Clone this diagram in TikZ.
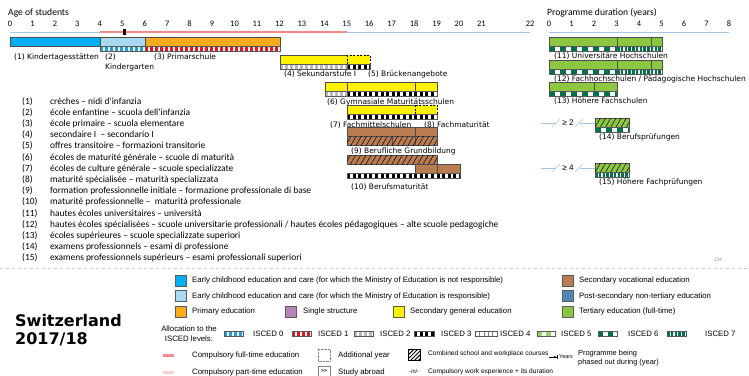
\documentclass[tikz,border=0pt]{standalone}
\usepackage{fontspec}
\setmainfont{Carlito}
\newfontfamily\verdanafont{DejaVu Sans}
\newfontfamily\arialfont{Liberation Sans}
\usetikzlibrary{patterns.meta,arrows.meta}

\definecolor{kitaBlue}{HTML}{00B0F0}
\definecolor{kigaBlue}{HTML}{A9D8F2}
\definecolor{primOrange}{HTML}{F7AC1E}
\definecolor{secYellow}{HTML}{FFF200}
\definecolor{vocBrown}{HTML}{B97C50}
\definecolor{terGreen}{HTML}{8DC63F}
\definecolor{darkGreen}{HTML}{00704A}
\definecolor{lightGreen}{HTML}{9ACD6A}
\definecolor{postBlue}{HTML}{4F86B8}
\definecolor{singlePurple}{HTML}{B784BE}
\definecolor{axisBlue}{HTML}{A4C6E6}
\definecolor{compRed}{HTML}{F08C8C}
\definecolor{compPink}{HTML}{F9CFCF}
\definecolor{iscedZero}{HTML}{1E9FDB}
\definecolor{iscedOne}{HTML}{E3151E}

\tikzset{
	box/.style={draw=gray!60!black,line width=0.4pt},
	addyear/.style={draw=black,line width=0.5pt,dash pattern=on 2pt off 1.5pt},
	dual/.style={postaction={pattern={Lines[angle=60,distance=4.5pt,line width=0.5pt]},pattern color=black}},
	axisline/.style={axisBlue,line width=1pt},
	title/.style={font=\fontsize{9.6}{10}\selectfont,anchor=west,inner sep=0pt},
	tick/.style={font=\fontsize{8.4}{9}\selectfont,inner sep=0pt},
	lbl/.style={font=\verdanafont\fontsize{7.5}{8}\selectfont,anchor=base west,inner sep=0pt},
	lst/.style={font=\fontsize{9.4}{10}\selectfont,anchor=base west,inner sep=0pt},
	leg/.style={font=\arialfont\fontsize{7.8}{9}\selectfont,anchor=west,inner sep=0pt},
	legsmall/.style={leg,font=\arialfont\fontsize{6.6}{8}\selectfont},
	legbox/.style={draw=gray!70!black,line width=0.4pt},
	ge/.style={font=\arialfont\fontsize{8.2}{9}\selectfont,inner sep=0pt},
	country/.style={font=\verdanafont\bfseries\fontsize{16}{17}\selectfont,anchor=west,inner sep=0pt}
}

% strip of ISCED blocks: x1, x2, top, block style, block width, period
\newcommand{\iscedbar}[6]{%
	\begin{scope}
		\clip (#1,#3) rectangle (#2,#3+5);
		\fill[white] (#1,#3) rectangle (#2,#3+5);
		\foreach \k in {0,...,40}
			\fill[#4] ({#1+\k*#6},#3) rectangle ++(#5,5);
	\end{scope}
	\draw[gray!70!black,line width=0.3pt] (#1,#3) rectangle (#2,#3+5);
}

\begin{document}
\begin{tikzpicture}[x=1pt,y=-1pt]
	\useasboundingbox (0,0) rectangle (749,375);

	% age axis
	\node[title] (agetitle) at (8,13) {Age of students};
	\draw[axisline] (10,32) -- (530,32);
	\foreach \a in {0,...,21}
		\node[tick] (age\a) at ({10+22.45*\a},24) {\a};
	\node[tick] (age22) at (530,24) {22};
	\draw[compRed,line width=2.2pt] (100,32) -- (347,32);
	\fill (123,29) rectangle (125.5,35);

	% early childhood, primary
	\draw[box,fill=kitaBlue] (10,37) rectangle (100,46);
	\draw[box,fill=kigaBlue] (100,37) rectangle (145,46);
	\draw[box,fill=primOrange] (145,37) rectangle (280,46);
	\iscedbar{100}{145}{46}{iscedZero}{2.5}{5}
	\iscedbar{145}{280}{46}{iscedOne}{2.5}{5}
	\node[lbl] (kita) at (14,59) {(1) Kindertagesstätten};
	\node[lbl] (kiganum) at (105,59) {(2)};
	\node[lbl] (kiga) at (105,69) {Kindergarten};
	\node[lbl] (prim) at (154,59) {(3) Primarschule};

	% secondary
	\draw[box,fill=secYellow] (280,55) rectangle (347,64);
	\draw[addyear,fill=secYellow] (347,55) rectangle (370,64);
	\iscedbar{280}{347}{64}{gray!55}{2.5}{5}
	\iscedbar{347}{370}{64}{black}{3}{5.6}
	\node[lbl] (sek) at (284,76.5) {(4) Sekundarstufe I};
	\node[lbl] (bruecke) at (368,76.5) {(5) Brückenangebote};

	\draw[box,fill=secYellow] (325,82) rectangle (437,91);
	\draw[box] (347,82) -- (347,91) (415,82) -- (415,91);
	\iscedbar{325}{347}{91}{gray!55}{2.5}{5}
	\iscedbar{347}{437}{91}{black}{3}{5.6}
	\node[lbl] (gym) at (327,104) {(6) Gymnasiale Maturitätsschulen};

	\draw[box,fill=secYellow] (347,105) rectangle (415,114);
	\draw[addyear,fill=secYellow] (415,105) rectangle (437,114);
	\iscedbar{347}{437}{114}{black}{3}{5.6}
	\node[lbl] (fms) at (330,127) {(7) Fachmittelschulen};
	\node[lbl] (fmat) at (424,127) {(8) Fachmaturität};

	\draw[box,fill=vocBrown] (347,127) rectangle (415,136);
	\draw[box,fill=vocBrown] (415,127) rectangle (437,136);
	\draw[box,fill=vocBrown,dual] (347,136) rectangle (392,145);
	\draw[box,fill=vocBrown,dual] (392,136) rectangle (415,145);
	\draw[box,fill=vocBrown,dual] (415,136) rectangle (437,145);
	\node[lbl] (bgb) at (351,153.5) {(9) Berufliche Grundbildung};

	\draw[box,fill=vocBrown,dual] (347,155) rectangle (437,164);
	\draw[box,fill=vocBrown] (415,164) rectangle (437,173);
	\draw[box,fill=vocBrown] (437,164) rectangle (460,173);
	\iscedbar{347}{460}{173}{black}{3}{5.6}
	\node[lbl] (bm) at (351,189) {(10) Berufsmaturität};

	% duration axis, tertiary
	\node[title] (durtitle) at (547,13) {Programme duration (years)};
	\draw[axisline] (549,32) -- (729,32);
	\foreach \d in {0,...,8}
		\node[tick] (dur\d) at ({549+22.5*\d},24) {\d};

	\foreach \y/\n/\t in {37/11/{Universitäre Hochschulen},60/12/{Fachhochschulen / Pädagogische Hochschulen}}{
		\draw[box,fill=terGreen] (549,\y) rectangle (662,\y+9);
		\draw[box] (617,\y) -- (617,\y+9) (651,\y) -- (651,\y+9);
		\iscedbar{549}{617}{\y+9}{darkGreen}{5.5}{11}
		\iscedbar{617}{662}{\y+9}{darkGreen}{2.6}{3.75}
		\node[lbl] (ter\n) at (554,\y+21) {(\n) \t};
	}
	\draw[box,fill=terGreen] (549,82) rectangle (617,91);
	\draw[box] (594,82) -- (594,91);
	\iscedbar{549}{617}{91}{darkGreen}{5.5}{11}
	\node[lbl] (ter13) at (554,103) {(13) Höhere Fachschulen};

	\draw[box,fill=terGreen,dual] (595,118) rectangle (629,127);
	\iscedbar{595}{629}{127}{darkGreen}{5.5}{11}
	\node[lbl] (ter14) at (599,139) {(14) Berufsprüfungen};
	\coordinate (w14a) at (541,123);
	\coordinate (w14b) at (556,123);
	\node[ge] (ge14) at (568,123) {≥ 2};
	\coordinate (w14c) at (580,123);
	\draw[axisline,line width=0.6pt] (w14a) -- (w14b) (w14c) -- (595,123);
	\draw[axisline,line width=0.6pt] (552,127) -- (560,119) (575,127) -- (583,119);

	\draw[box,fill=terGreen,dual] (595,163) rectangle (629,172);
	\iscedbar{595}{629}{172}{darkGreen}{2.6}{3.75}
	\node[lbl] (ter15) at (599,184) {(15) Höhere Fachprüfungen};
	\coordinate (w15a) at (541,168);
	\coordinate (w15b) at (556,168);
	\node[ge] (ge15) at (568,168) {≥ 4};
	\coordinate (w15c) at (580,168);
	\draw[axisline,line width=0.6pt] (w15a) -- (w15b) (w15c) -- (595,168);
	\draw[axisline,line width=0.6pt] (552,172) -- (560,164) (575,172) -- (583,164);

	% national names
	\foreach \n/\t in {1/{crèches – nidi d’infanzia},
		2/{école enfantine – scuola dell’infanzia},
		3/{école primaire – scuola elementare},
		4/{secondaire I \ – secondario I},
		5/{offres transitoire – formazioni transitorie},
		6/{écoles de maturité générale – scuole di maturità},
		7/{écoles de culture générale – scuole specializzate},
		8/{maturité spécialisée – maturità specializzata},
		9/{formation professionnelle initiale – formazione professionale di base},
		10/{maturité professionnelle – \ maturità professionale},
		11/{hautes écoles universitaires – università},
		12/{hautes écoles spécialisées – scuole universitarie professionali / hautes écoles pédagogiques – alte scuole pedagogiche},
		13/{écoles supérieures – scuole specializzate superiori},
		14/{examens professionnels – esami di professione},
		15/{examens professionnels supérieurs – esami professionali superiori}}{
		\node[lst] (num\n) at (22,{104+(\n-1)*11.2}) {(\n)};
		\node[lst] (name\n) at (50,{104+(\n-1)*11.2}) {\t};
	}

	\node[font=\arialfont\fontsize{5}{5}\selectfont,text=gray,inner sep=0pt] (ch) at (718,260) {CH};
	\draw[gray!40,dash pattern=on 3pt off 3pt] (0,268) -- (749,268);

	% legend
	\node[country] (land) at (15,321) {Switzerland};
	\node[country] (year) at (15,339) {2017/18};

	\draw[legbox,fill=kitaBlue] (175,275) rectangle (186,286);
	\node[leg] (lkita) at (192,280.5) {Early childhood education and care (for which the Ministry of Education is not responsible)};
	\draw[legbox,fill=kigaBlue] (175,290.5) rectangle (186,301.5);
	\node[leg] (lkiga) at (192,296) {Early childhood education and care (for which the Ministry of Education is responsible)};
	\draw[legbox,fill=primOrange] (175,306) rectangle (186,317);
	\node[leg] (lprim) at (192,311.5) {Primary education};
	\draw[legbox,fill=singlePurple] (285,306) rectangle (296,317);
	\node[leg] (lsingle) at (303,311.5) {Single structure};
	\draw[legbox,fill=secYellow] (393,306) rectangle (404,317);
	\node[leg] (lsec) at (410,311.5) {Secondary general education};
	\draw[legbox,fill=vocBrown] (562,275) rectangle (573,286);
	\node[leg] (lvoc) at (579,280.5) {Secondary vocational education};
	\draw[legbox,fill=postBlue] (562,290.5) rectangle (573,301.5);
	\node[leg] (lpost) at (579,296) {Post-secondary non-tertiary education};
	\draw[legbox,fill=terGreen] (562,306) rectangle (573,317);
	\node[leg] (lter) at (579,311.5) {Tertiary education (full-time)};

	\node[leg,anchor=center,align=center,font=\arialfont\fontsize{7.8}{10}\selectfont] (alloc) at (189,334) {Allocation to the\\ISCED levels:};
	\iscedbar{224}{243}{331}{iscedZero}{2.5}{5}
	\node[leg] (i0) at (253,333.5) {ISCED 0};
	\iscedbar{292}{311}{331}{iscedOne}{2.5}{5}
	\node[leg] (i1) at (318,333.5) {ISCED 1};
	\iscedbar{354}{373}{331}{gray!55}{2.5}{5}
	\node[leg] (i2) at (380,333.5) {ISCED 2};
	\iscedbar{414}{434}{331}{black}{3}{5.6}
	\node[leg] (i3) at (441,333.5) {ISCED 3};
	\iscedbar{475}{497}{331}{{white,draw=gray}}{4.4}{4.4}
	\node[leg] (i4) at (500,333.5) {ISCED 4};
	\iscedbar{537}{555}{331}{lightGreen}{4.5}{9}
	\node[leg] (i5) at (561,333.5) {ISCED 5};
	\iscedbar{598}{617}{331}{darkGreen}{5}{10}
	\node[leg] (i6) at (628,333.5) {ISCED 6};
	\iscedbar{667}{686}{331}{darkGreen}{2.6}{3.75}
	\node[leg] (i7) at (705,333.5) {ISCED 7};

	\draw[compRed,line width=3pt] (163,355) -- (174,355);
	\node[leg] (lfull) at (192,355) {Compulsory full-time education};
	\draw[gray,densely dotted] (318,349) rectangle (330,361);
	\node[leg] (ladd) at (338,355) {Additional year};
	\draw[line width=0.5pt,postaction={pattern={Lines[angle=45,distance=2.8pt,line width=1pt]}}] (408,349) rectangle (420,360);
	\node[legsmall] (lcomb) at (428,354) {Combined school and workplace courses};
	\coordinate (arrA) at (549,357);
	\coordinate (arrB) at (557,357);
	\draw[line width=0.4pt,-{Latex[length=2.5pt,width=2.5pt]Bar[width=4pt]}] (arrA) -- (arrB);
	\node[leg,font=\arialfont\fontsize{5.4}{6}\selectfont] (lyears) at (559,357) {Years};
	\node[leg,align=left,font=\arialfont\fontsize{7.4}{9}\selectfont] (lphase) at (578,358) {Programme being\\phased out during (year)};

	\draw[compPink,line width=3pt] (163,372) -- (174,372);
	\node[leg] (lpart) at (192,372) {Compulsory part-time education};
	\draw[gray] (318,366) rectangle (330,378);
	\node[font=\arialfont\bfseries\fontsize{5}{5}\selectfont,inner sep=0pt] (abroadsign) at (324,371) {>>};
	\node[leg] (labroad) at (338,372) {Study abroad};
	\node[leg,font=\arialfont\fontsize{5.5}{6}\selectfont] (workexp) at (409,372) {-/n/-};
	\node[legsmall] (lwork) at (428,372) {Compulsory work experience + its duration};
\end{tikzpicture}
\end{document}
